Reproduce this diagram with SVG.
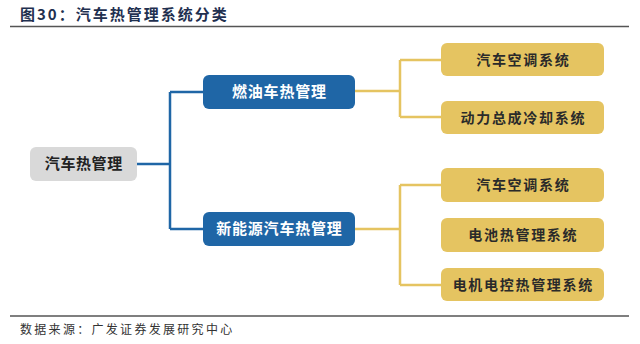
<svg xmlns="http://www.w3.org/2000/svg" width="640" height="344" viewBox="0 0 640 344">
<style>
.t{font-family:"Noto Sans CJK SC","Noto Sans",sans-serif;}
.title{font-size:15px;font-weight:bold;fill:#1f3050;letter-spacing:2px;}
.src{font-size:12px;fill:#333;letter-spacing:2.3px;}
.rule{stroke:#555;stroke-width:1.5;}
.root rect{fill:#d9d9d9;}
.root text{font-size:15px;fill:#222;font-weight:bold;letter-spacing:0.6px;}
.mid rect{fill:#1f66a6;}
.mid text{font-size:15px;fill:#fff;font-weight:bold;letter-spacing:0.8px;}
.leaf rect{fill:#e5c461;}
.leaf text{font-size:14px;fill:#2a2a2a;font-weight:bold;letter-spacing:1.7px;}
.cb{fill:none;stroke:#1f66a6;stroke-width:2.5;}
.cg{fill:none;stroke:#e5c461;stroke-width:2.5;}
</style>
<rect width="640" height="344" fill="#fff"/>
<text class="t title" x="20" y="20">图30：汽车热管理系统分类</text>
<line class="rule" x1="10" y1="26.5" x2="629" y2="26.5"/>
<line class="rule" x1="10" y1="316" x2="629" y2="316"/>
<text class="t src" x="20" y="334">数据来源：广发证券发展研究中心</text>
<g id="connectors">
<path class="cb" d="M137,164 H170 M170,92 V229 M170,92 H203 M170,229 H203"/>
<path class="cg" d="M355,91 H400 M400,60 V117 M400,60 H441 M400,117 H441"/>
<path class="cg" d="M355,229 H400 M400,185 V285 M400,185 H441 M400,285 H441"/>
</g>
<g id="root" class="root"><rect x="30" y="147" width="107" height="34" rx="6"/><text class="t" x="83.8" y="169" text-anchor="middle">汽车热管理</text></g>
<g id="ice" class="mid"><rect x="203" y="75" width="152" height="34" rx="6"/><text class="t" x="279.4" y="97" text-anchor="middle">燃油车热管理</text></g>
<g id="nev" class="mid"><rect x="203" y="212" width="152" height="34" rx="6"/><text class="t" x="279.4" y="234" text-anchor="middle">新能源汽车热管理</text></g>
<g id="ac1" class="leaf"><rect x="441" y="43" width="163" height="33" rx="6"/><text class="t" x="523.3" y="64.5" text-anchor="middle">汽车空调系统</text></g>
<g id="pt" class="leaf"><rect x="441" y="101" width="163" height="33" rx="6"/><text class="t" x="523.3" y="122.5" text-anchor="middle">动力总成冷却系统</text></g>
<g id="ac2" class="leaf"><rect x="441" y="168" width="163" height="34" rx="6"/><text class="t" x="523.3" y="190" text-anchor="middle">汽车空调系统</text></g>
<g id="bat" class="leaf"><rect x="441" y="218" width="163" height="34" rx="6"/><text class="t" x="523.3" y="240" text-anchor="middle">电池热管理系统</text></g>
<g id="motor" class="leaf"><rect x="441" y="268" width="163" height="33" rx="6"/><text class="t" x="523.3" y="289.5" text-anchor="middle">电机电控热管理系统</text></g>
</svg>
